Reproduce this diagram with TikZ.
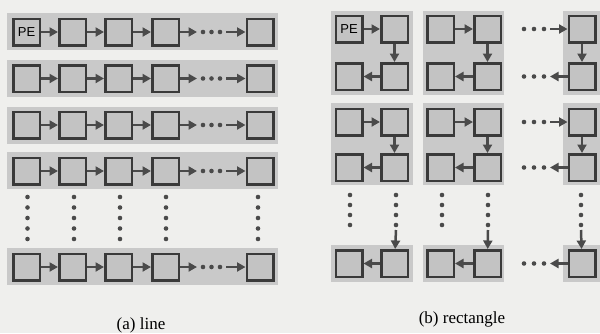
\documentclass[tikz,border=0pt]{standalone}
\usepackage{fontspec}
\setmainfont{Liberation Serif}
\newfontfamily\pesans{Liberation Sans}
\usetikzlibrary{arrows.meta}
\definecolor{paper}{HTML}{EFEFED}
\definecolor{band}{HTML}{C9C9C9}
\definecolor{cellfill}{HTML}{C3C3C3}
\definecolor{ink}{HTML}{3A3A3A}
\definecolor{arr}{HTML}{4A4A4A}
\begin{document}
\begin{tikzpicture}[x=1pt,y=-1pt,
  cell/.style={draw=ink,line width=2.5pt,fill=cellfill,minimum size=26.5pt,inner sep=0pt,
    font=\pesans\fontsize{13}{13}\selectfont},
  link/.style={draw=arr,line width=2.5pt,-{Triangle[length=8.5pt,width=9pt]}},
  bandfill/.style={fill=band},
  dotfill/.style={fill=arr},
  caption/.style={font=\fontsize{17}{20}\selectfont}]
\fill[paper] (0,0) rectangle (600,333);
\useasboundingbox (0,0) rectangle (600,333);

% ---------------- (a) line ----------------
\foreach \y in {31.5,78,125,170.5,266}{
  \fill[bandfill] (7,\y-18.5) rectangle (278,\y+18.5);
}
\node[cell] (a11) at (26.5,32) {PE};
\foreach \c/\x in {2/72.5,3/118.5,4/165.5,5/260}{
  \node[cell] (a1\c) at (\x,32) {};
}
\foreach \r/\y in {2/78.5,3/125,4/171,5/267}{
  \foreach \c/\x in {1/26.5,2/72.5,3/118.5,4/165.5,5/260}{
    \node[cell] (a\r\c) at (\x,\y) {};
  }
}
\foreach \r/\y in {1/32,2/78.5,3/125,4/171,5/267}{
  \draw[link] (a\r1) -- (a\r2);
  \draw[link] (a\r2) -- (a\r3);
  \draw[link] (a\r3) -- (a\r4);
  \coordinate (aL\r) at (197,\y);
  \coordinate (aR\r) at (226,\y);
  \draw[link] (a\r4) -- (aL\r);
  \foreach \d in {203,211.5,220}{ \fill[dotfill] (\d,\y) circle (2.3pt); }
  \draw[link] (aR\r) -- (a\r5);
}
\foreach \x in {27.5,74,120,166,258}{
  \foreach \d in {197,207.5,218,228.5,239}{ \fill[dotfill] (\x,\d) circle (2.3pt); }
}
\node[caption] (capa) at (141,325) {(a) line};

% ---------------- (b) rectangle ----------------
\foreach \ya/\yb in {11/95,103/185}{
  \fill[bandfill] (331,\ya) rectangle (413,\yb);
  \fill[bandfill] (423,\ya) rectangle (504,\yb);
  \fill[bandfill] (563,\ya) rectangle (600,\yb);
}
\fill[bandfill] (331,245) rectangle (413,282);
\fill[bandfill] (423,245) rectangle (504,282);
\fill[bandfill] (563,245) rectangle (600,282);

\node[cell] (b11) at (349,29) {PE};
\foreach \c/\x in {2/394.5,3/440.5,4/487.5,5/582}{
  \node[cell] (b1\c) at (\x,29) {};
}
\foreach \r/\y in {2/76.5,3/122,4/167.5,5/263.5}{
  \foreach \c/\x in {1/349,2/394.5,3/440.5,4/487.5,5/582}{
    \node[cell] (b\r\c) at (\x,\y) {};
  }
}
% top rows of blocks: rightwards
\foreach \r/\y in {1/29,3/122}{
  \draw[link] (b\r1) -- (b\r2);
  \draw[link] (b\r3) -- (b\r4);
  \coordinate (bT\r) at (550,\y);
  \foreach \d in {524,534,544}{ \fill[dotfill] (\d,\y) circle (2.3pt); }
  \draw[link] (bT\r) -- (b\r5);
}
% vertical links inside blocks
\foreach \a/\b in {1/2,3/4}{
  \draw[link] (b\a2) -- (b\b2);
  \draw[link] (b\a4) -- (b\b4);
  \draw[link] (b\a5) -- (b\b5);
}
% bottom rows of blocks: leftwards
\foreach \r/\y in {2/76.5,4/167.5,5/263.5}{
  \draw[link] (b\r2) -- (b\r1);
  \draw[link] (b\r4) -- (b\r3);
  \coordinate (bB\r) at (550,\y);
  \foreach \d in {524,534,544}{ \fill[dotfill] (\d,\y) circle (2.3pt); }
  \draw[link] (b\r5) -- (bB\r);
}
% vertical dots between block rows
\foreach \x in {350,396,442,488,581}{
  \foreach \d in {195,205,215,225}{ \fill[dotfill] (\x,\d) circle (2.3pt); }
}
\foreach \c/\x in {2/396,4/488,5/581}{
  \coordinate (bV\c) at (\x,230);
  \draw[link] (bV\c) -- (b5\c);
}
\node[caption] (capb) at (462,319) {(b) rectangle};
\end{tikzpicture}
\end{document}
